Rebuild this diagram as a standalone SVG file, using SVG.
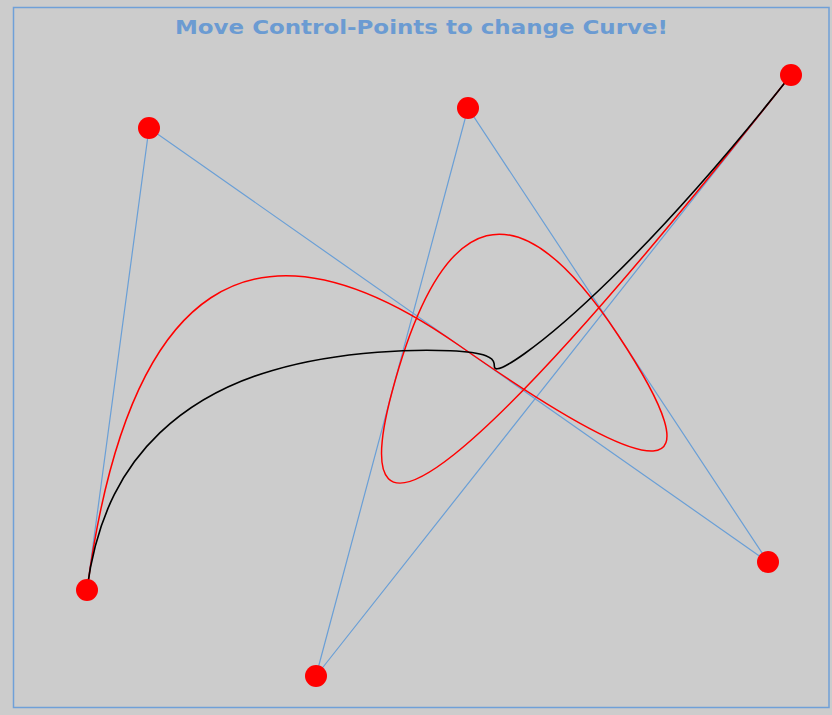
<svg xmlns="http://www.w3.org/2000/svg" width="832" height="715" viewBox="0 0 832 715">
<style>
.poly{fill:none;stroke:#6a9fd6;stroke-width:1.2}
.cp{fill:#ff0000}
.bspline{fill:none;stroke:#ff0000;stroke-width:1.5}
.bezier{fill:none;stroke:#000000;stroke-width:1.6;stroke-linejoin:round}
.title{font-family:"DejaVu Sans",Verdana,sans-serif;font-weight:bold;font-size:20px;fill:#6b9bd2}
</style>
<rect x="0" y="0" width="832" height="715" fill="#cccccc"/>
<rect x="13.5" y="7.5" width="815.5" height="700" fill="none" stroke="#6fa0d8" stroke-width="1.5"/>
<text class="title" x="421.5" y="34" text-anchor="middle" textLength="493" lengthAdjust="spacingAndGlyphs">Move Control-Points to change Curve!</text>
<g id="connectors">
<polyline class="poly" points="87,590 149,128 768,562 468,108 316,676 791,75"/>
<path class="bspline" d="M87,590 Q149,128 458.5,345 Q768,562 618,335 Q468,108 392,392 Q316,676 791,75"/>
<path class="bezier" d="M87,589 C97.17,512.17 125.53,465.6 159.78,432.94 C194.03,400.28 234.2,381.61 272.45,370.41 C310.7,359.21 347.05,354.57 377.49,352.22 C407.93,349.87 432.51,349.9 450.4,350.77 C468.29,351.64 479.52,353.44 485.87,355.75 C492.22,358.06 493.74,360.99 494.13,363.72 C494.52,366.45 493.82,369.08 497.1,368.82 C500.38,368.56 507.63,365.64 524.72,353.49 C541.81,341.34 568.64,320.08 611.14,278.54 C653.64,237 711.83,175.17 791,75"/>
</g>
<g id="p0"><circle class="cp" cx="87" cy="590" r="11"/></g>
<g id="p1"><circle class="cp" cx="149" cy="128" r="11"/></g>
<g id="p2"><circle class="cp" cx="768" cy="562" r="11"/></g>
<g id="p3"><circle class="cp" cx="468" cy="108" r="11"/></g>
<g id="p4"><circle class="cp" cx="316" cy="676" r="11"/></g>
<g id="p5"><circle class="cp" cx="791" cy="75" r="11"/></g>
</svg>
